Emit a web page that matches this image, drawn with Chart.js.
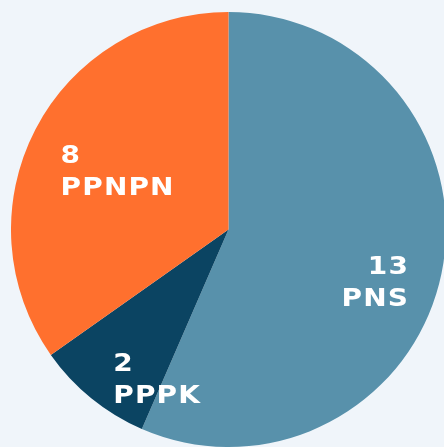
<!DOCTYPE html>
<html>
<head>
<meta charset="utf-8">
<script src="https://cdn.jsdelivr.net/npm/chart.js@4.4.1/dist/chart.umd.min.js"></script>
<style>
  html, body { margin: 0; padding: 0; background: #f0f5fa; overflow: hidden; width: 444px; height: 447px; }
  #wrap { position: absolute; left: 11px; top: 12px; width: 435px; height: 435px; }
</style>
</head>
<body>
<div id="wrap"><canvas id="pie" width="435" height="435"></canvas></div>
<script>
// data
const categories = ['PNS', 'PPPK', 'PPNPN'];
const values = [13, 2, 8];
const colors = ['#5891ab', '#0b4462', '#ff702e'];

// label nudges (px) from the mid-angle anchor
const nudges = { PNS: [19, 24], PPPK: [11, 46], PPNPN: [5, 0] };
const stretch = 1.12; // labels in the original are set in a wide face

const sliceLabels = {
    id: 'sliceLabels',
    afterDatasetsDraw(chart) {
        const ctx = chart.ctx;
        const meta = chart.getDatasetMeta(0);
        ctx.save();
        ctx.fillStyle = '#ffffff';
        ctx.font = 'bold 25px "DejaVu Sans"';
        ctx.letterSpacing = '1px';
        ctx.textBaseline = 'alphabetic';
        meta.data.forEach((arc, i) => {
            const p = arc.getProps(['x', 'y', 'startAngle', 'endAngle', 'outerRadius'], true);
            const mid = (p.startAngle + p.endAngle) / 2;
            const d = p.outerRadius * 0.6;
            const n = nudges[categories[i]];
            const cx = p.x + Math.cos(mid) * d + n[0];
            const cy = p.y + Math.sin(mid) * d + n[1];
            const w = ctx.measureText(categories[i]).width * stretch;
            const right = cx > p.x;
            const x = right ? cx + w / 2 : cx - w / 2;
            ctx.save();
            ctx.translate(x, 0);
            ctx.scale(stretch, 1);
            ctx.textAlign = right ? 'right' : 'left';
            ctx.fillText(String(values[i]), 0, cy - 6);
            ctx.fillText(categories[i], 0, cy + 26);
            ctx.restore();
        });
        ctx.restore();
    }
};

new Chart(document.getElementById('pie'), {
    type: 'pie',
    data: {
        labels: categories,
        datasets: [{
            data: values,
            backgroundColor: colors,
            borderWidth: 0
        }]
    },
    options: {
        responsive: false,
        animation: false,
        layout: { padding: 0 },
        plugins: { legend: { display: false }, tooltip: { enabled: false } }
    },
    plugins: [sliceLabels]
});
</script>
</body>
</html>
